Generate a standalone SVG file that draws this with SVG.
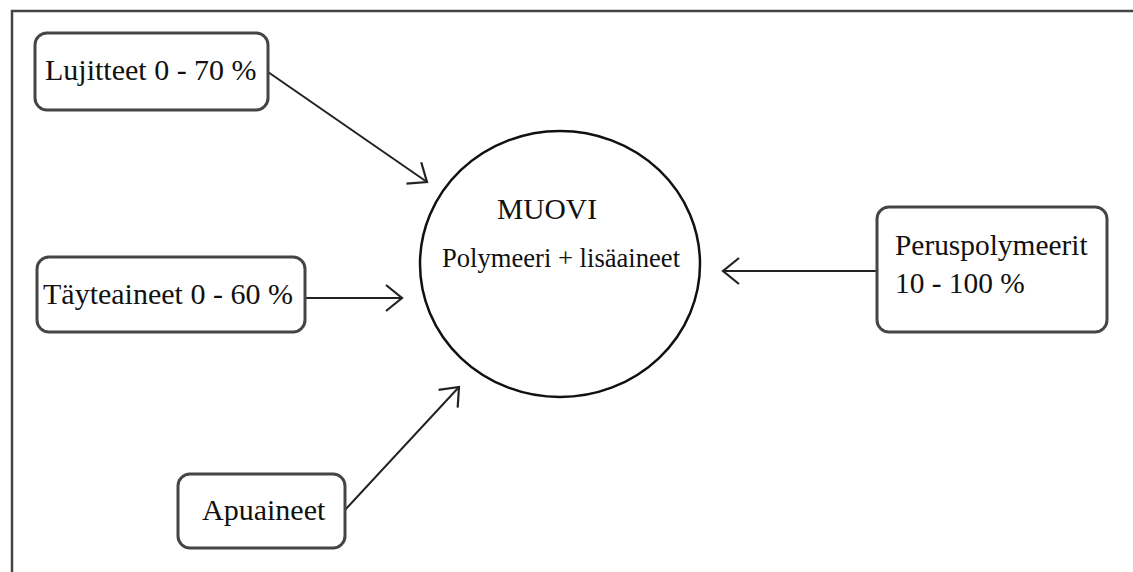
<svg xmlns="http://www.w3.org/2000/svg" width="1133" height="572" viewBox="0 0 1133 572">
<style>
.box{fill:#fff;stroke:#454545;stroke-width:3}
.t{font-family:"Liberation Serif","Times New Roman",serif;font-size:30px;fill:#111}
.c{fill:#fff;stroke:#111;stroke-width:2.5}
.ln{stroke:#222;stroke-width:2;fill:none;marker-end:url(#ah)}
</style>
<defs>
<marker id="ah" markerUnits="userSpaceOnUse" orient="auto" markerWidth="30" markerHeight="30" refX="0" refY="0" viewBox="-20 -15 22 30" overflow="visible">
<path d="M-16,-13 L0,0 L-16,13" fill="none" stroke="#222" stroke-width="2.2"/>
</marker>
</defs>
<rect width="1133" height="572" fill="#fff"/>
<g id="frame">
<path d="M12,572 L12,11 L1140,11" fill="none" stroke="#444" stroke-width="2.5"/>
</g>
<g id="connectors">
<line class="ln" x1="268" y1="72" x2="427" y2="182"/>
<line class="ln" x1="305" y1="298" x2="402" y2="298"/>
<line class="ln" x1="877" y1="271" x2="723" y2="271"/>
<line class="ln" x1="345" y1="510" x2="459" y2="387"/>
</g>
<g id="muovi">
<ellipse class="c" cx="560" cy="264" rx="140" ry="133"/>
<text class="t" x="497" y="219" style="font-size:29.5px">MUOVI</text>
<text class="t" x="442" y="267" style="font-size:26.6px">Polymeeri + lisäaineet</text>
</g>
<g id="lujitteet">
<rect class="box" x="35" y="33" width="233" height="77" rx="12"/>
<text class="t" x="45" y="80">Lujitteet 0 - 70 %</text>
</g>
<g id="tayteaineet">
<rect class="box" x="37" y="257" width="268" height="75" rx="12"/>
<text class="t" x="43" y="304">Täyteaineet 0 - 60 %</text>
</g>
<g id="apuaineet">
<rect class="box" x="178" y="474" width="167" height="74" rx="12"/>
<text class="t" x="202" y="520">Apuaineet</text>
</g>
<g id="peruspolymeerit">
<rect class="box" x="877" y="207" width="230" height="125" rx="12"/>
<text class="t" x="895" y="255" style="font-size:29.4px">Peruspolymeerit</text>
<text class="t" x="895" y="293" style="font-size:29.4px">10 - 100 %</text>
</g>
</svg>
